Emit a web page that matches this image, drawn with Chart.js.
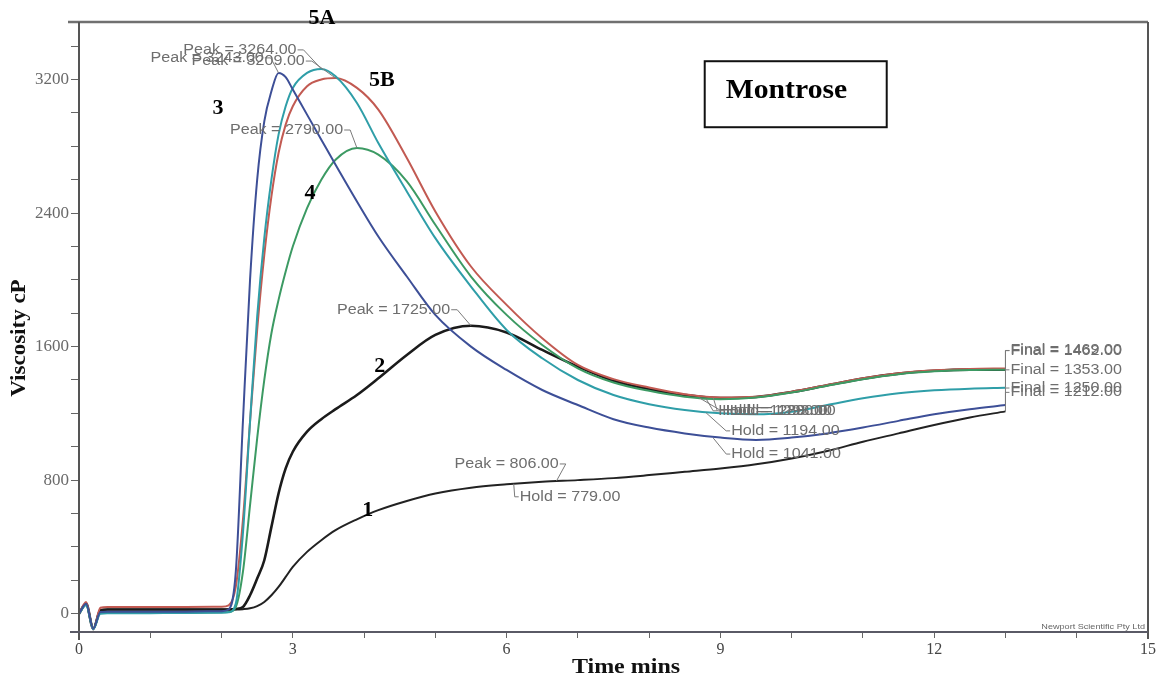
<!DOCTYPE html>
<html>
<head>
<meta charset="utf-8">
<script src="https://cdn.jsdelivr.net/npm/chart.js@4.4.0/dist/chart.umd.min.js"></script>
<style>
    html, body { margin: 0; padding: 0; background: #fff; }
</style>
</head>
<body>
<canvas id="myChart" width="1163" height="683"></canvas>
<script>
// time grid (mins) shared by all curves
const times = [0, 0.1, 0.2, 0.3, 0.4, 1, 1.5, 2, 2.1, 2.2, 2.3, 2.4, 2.5, 2.6, 2.7, 2.8, 2.9, 3, 3.2, 3.4, 3.6, 3.9, 4.2, 4.6, 5, 5.5, 6, 6.5, 7, 7.5, 8, 8.5, 9, 9.5, 10, 10.5, 11, 11.5, 12, 12.5, 13];

// viscosity cP
const curve3 = [0, 60, -90, 10, 12, 12, 12, 15, 25, 250, 1150, 2000, 2600, 2950, 3130, 3240, 3215, 3140, 2990, 2840, 2690, 2470, 2260, 2020, 1790, 1600, 1460, 1340, 1250, 1165, 1115, 1080, 1055, 1041, 1055, 1080, 1115, 1155, 1195, 1225, 1250];
const curve5A = [0, 50, -95, 0, 2, 3, 4, 5, 8, 60, 480, 1150, 1780, 2250, 2600, 2870, 3040, 3150, 3240, 3264, 3220, 3060, 2820, 2530, 2250, 1960, 1700, 1530, 1400, 1310, 1255, 1220, 1200, 1194, 1210, 1250, 1290, 1320, 1338, 1348, 1353];
const curve4 = [0, 55, -90, 5, 5, 5, 5, 8, 10, 40, 250, 650, 1050, 1400, 1680, 1880, 2050, 2200, 2430, 2600, 2720, 2790, 2750, 2590, 2330, 2020, 1790, 1610, 1470, 1385, 1335, 1300, 1285, 1295, 1325, 1365, 1405, 1435, 1452, 1460, 1462];
const curve5B = [0, 70, -95, 35, 40, 40, 40, 42, 50, 160, 560, 1150, 1700, 2150, 2500, 2760, 2930, 3040, 3160, 3200, 3209, 3150, 3020, 2730, 2410, 2080, 1850, 1650, 1490, 1405, 1355, 1315, 1295, 1300, 1330, 1370, 1410, 1440, 1458, 1466, 1469];
const curve2 = [0, 60, -90, 20, 25, 25, 25, 25, 25, 28, 40, 110, 210, 320, 520, 720, 870, 970, 1090, 1165, 1225, 1310, 1410, 1550, 1670, 1725, 1685, 1580, 1480, 1395, 1345, 1310, 1292, 1298, 1328, 1368, 1408, 1438, 1455, 1462, 1462];
const curve1 = [0, 60, -90, 20, 25, 25, 25, 25, 25, 25, 27, 32, 45, 70, 110, 160, 220, 280, 370, 440, 500, 565, 620, 675, 720, 755, 775, 790, 800, 812, 830, 850, 870, 895, 930, 975, 1030, 1080, 1130, 1175, 1212];

const xTickValues = [0, 1, 2, 3, 4, 5, 6, 7, 8, 9, 10, 11, 12, 13, 14, 15];
const xTickLabels = [0, 3, 6, 9, 12, 15];
const yTickValues = [0, 200, 400, 600, 800, 1000, 1200, 1400, 1600, 1800, 2000, 2200, 2400, 2600, 2800, 3000, 3200, 3400];
const yTickLabels = [0, 800, 1600, 2400, 3200];

// instrument read-outs (text, anchor time, anchor value); label offset in px
const notes = [
    { text: "Peak = 3243.00", t: 2.8, v: 3240, dx: -128, dy: -15 },
    { text: "Peak = 3264.00", t: 3.4, v: 3264, dx: -138, dy: -19 },
    { text: "Peak = 3209.00", t: 3.6, v: 3209, dx: -144, dy: -17 },
    { text: "Peak = 2790.00", t: 3.9, v: 2790, dx: -127, dy: -18 },
    { text: "Peak = 1725.00", t: 5.5, v: 1725, dx: -134, dy: -16 },
    { text: "Peak = 806.00", t: 6.7, v: 795, dx: -102, dy: -17 },
    { text: "Hold = 779.00", t: 6.1, v: 778, dx: 6, dy: 13 },
    { text: "Hold = 1288.00", t: 8.8, v: 1287, dx: 12, dy: 12 },
    { text: "Hold = 1293.00", t: 8.9, v: 1293, dx: 9, dy: 13 },
    { text: "Hold = 1290.00", t: 8.7, v: 1294, dx: 27, dy: 13 },
    { text: "Hold = 1194.00", t: 8.8, v: 1203, dx: 25, dy: 18 },
    { text: "Hold = 1041.00", t: 8.9, v: 1052, dx: 18, dy: 16 },
    { text: "Final = 1469.00", t: 13, v: 1469, dx: 5, dy: -18 },
    { text: "Final = 1462.00", t: 13, v: 1462, dx: 5, dy: -19 },
    { text: "Final = 1353.00", t: 13, v: 1353, dx: 5, dy: -18 },
    { text: "Final = 1250.00", t: 13, v: 1250, dx: 5, dy: -17 },
    { text: "Final = 1212.00", t: 13, v: 1212, dx: 5, dy: -19 }
];

// curve numbers placed in data space
const curveNames = [
    { text: "5A", t: 3.41, v: 3569 },
    { text: "5B", t: 4.25, v: 3197 },
    { text: "3", t: 1.95, v: 3030 },
    { text: "4", t: 3.24, v: 2520 },
    { text: "2", t: 4.22, v: 1484 },
    { text: "1", t: 4.05, v: 621 }
];

function pts(values) {
    return times.map((t, i) => ({ x: t, y: values[i] }));
}

function line(label, values, color, width) {
    return {
        label: label,
        data: pts(values),
        borderColor: color,
        borderWidth: width,
        pointRadius: 0,
        fill: false,
        cubicInterpolationMode: "monotone"
    };
}

function drawText(ctx, text, x, y, font, color, sx, align) {
    ctx.save();
    ctx.font = font;
    ctx.fillStyle = color;
    ctx.textBaseline = "middle";
    ctx.textAlign = align || "left";
    ctx.translate(x, y);
    ctx.scale(sx, 1);
    ctx.fillText(text, 0, 0);
    ctx.restore();
}

function stroke(ctx, points, color, width) {
    ctx.save();
    ctx.strokeStyle = color;
    ctx.lineWidth = width;
    ctx.beginPath();
    points.forEach((p, i) => i ? ctx.lineTo(p[0], p[1]) : ctx.moveTo(p[0], p[1]));
    ctx.stroke();
    ctx.restore();
}

const decorations = {
    id: "decorations",
    afterDatasetsDraw(chart) {
        const ctx = chart.ctx;
        const xs = chart.scales.x, ys = chart.scales.y;
        const area = chart.chartArea;

        // frame
        stroke(ctx, [[68, area.top], [area.right, area.top]], "#707070", 2.5);
        stroke(ctx, [[area.right, area.top], [area.right, area.bottom + 7]], "#555", 2);
        stroke(ctx, [[area.left, area.top], [area.left, area.bottom + 8]], "#555", 2);
        stroke(ctx, [[70, area.bottom], [area.right, area.bottom]], "#5a5a66", 2);

        // read-out labels with leader lines
        const noteFont = "14px 'Liberation Sans', Arial, sans-serif";
        const sx = 1.15;
        ctx.font = noteFont;
        notes.forEach(n => {
            const ax = xs.getPixelForValue(n.t);
            const ay = ys.getPixelForValue(n.v);
            const w = ctx.measureText(n.text).width * sx;
            const left = ax + n.dx;
            const ly = ay + n.dy;
            if (n.dx < 0) {
                stroke(ctx, [[left + w + 1, ly], [left + w + 7, ly], [ax, ay]], "#7a7a7a", 1);
            } else {
                stroke(ctx, [[ax, ay], [left - 5, ly], [left - 1, ly]], "#7a7a7a", 1);
            }
            drawText(ctx, n.text, left, ly, noteFont, "#6e6e6e", sx);
        });

        // curve numbers
        curveNames.forEach(c => {
            drawText(ctx, c.text, xs.getPixelForValue(c.t), ys.getPixelForValue(c.v),
                "bold 22px 'Liberation Serif', 'Times New Roman', serif", "#000", 1, "center");
        });

        // Montrose box
        const bx = xs.getPixelForValue(8.78), by = ys.getPixelForValue(3310);
        ctx.save();
        ctx.fillStyle = "#fff";
        ctx.fillRect(bx, by, 182, 66);
        ctx.strokeStyle = "#111";
        ctx.lineWidth = 2;
        ctx.strokeRect(bx, by, 182, 66);
        ctx.restore();
        drawText(ctx, "Montrose", bx + 21, by + 30, "bold 27px 'Liberation Serif', 'Times New Roman', serif", "#000", 1.1);

        // axis titles
        ctx.save();
        ctx.translate(20, 338);
        ctx.rotate(-Math.PI / 2);
        drawText(ctx, "Viscosity cP", 0, 0, "bold 20px 'Liberation Serif', 'Times New Roman', serif", "#111", 1.15, "center");
        ctx.restore();
        drawText(ctx, "Time mins", 626, 668, "bold 20px 'Liberation Serif', 'Times New Roman', serif", "#111", 1.2, "center");

        // maker's imprint
        drawText(ctx, "Newport Scientific Pty Ltd", area.right - 3, area.bottom - 5, "7px 'Liberation Sans', Arial, sans-serif", "#666", 1.3, "right");
    }
};

const config = {
    type: "line",
    data: {
        datasets: [
            line("3", curve3, "#3d4f97", 2),
            line("5A", curve5A, "#2f9ea8", 2),
            line("4", curve4, "#3c9a63", 2),
            line("5B", curve5B, "#c25a52", 2),
            line("2", curve2, "#1b1b1b", 2.6),
            line("1", curve1, "#222", 2)
        ]
    },
    options: {
        responsive: false,
        animation: false,
        devicePixelRatio: 1,
        layout: { padding: { left: 0, top: 22, right: 15, bottom: 0 } },
        plugins: {
            legend: { display: false },
            tooltip: { enabled: false }
        },
        scales: {
            x: {
                type: "linear",
                min: 0,
                max: 15,
                afterBuildTicks: s => { s.ticks = xTickValues.map(v => ({ value: v })); },
                afterFit: s => { s.height = 51; },
                ticks: {
                    autoSkip: false,
                    maxRotation: 0,
                    padding: 2,
                    color: "#444",
                    font: { family: "'Liberation Serif', 'Times New Roman', serif", size: 16 },
                    callback: v => xTickLabels.includes(v) ? String(v) : ""
                },
                grid: { drawOnChartArea: false, tickLength: 6, color: "#666" },
                border: { display: false }
            },
            y: {
                type: "linear",
                min: -110,
                max: 3545,
                afterBuildTicks: s => { s.ticks = yTickValues.map(v => ({ value: v })); },
                afterFit: s => { s.width = 79; },
                ticks: {
                    autoSkip: false,
                    padding: 2,
                    color: "#6a6a6a",
                    font: { family: "'Liberation Serif', 'Times New Roman', serif", size: 17 },
                    callback: v => yTickLabels.includes(v) ? String(v) : ""
                },
                grid: { drawOnChartArea: false, tickLength: 8, color: "#666" },
                border: { display: false }
            }
        }
    },
    plugins: [decorations]
};

const ctx = document.getElementById("myChart").getContext("2d");
const myChart = new Chart(ctx, config);
</script>
</body>
</html>
